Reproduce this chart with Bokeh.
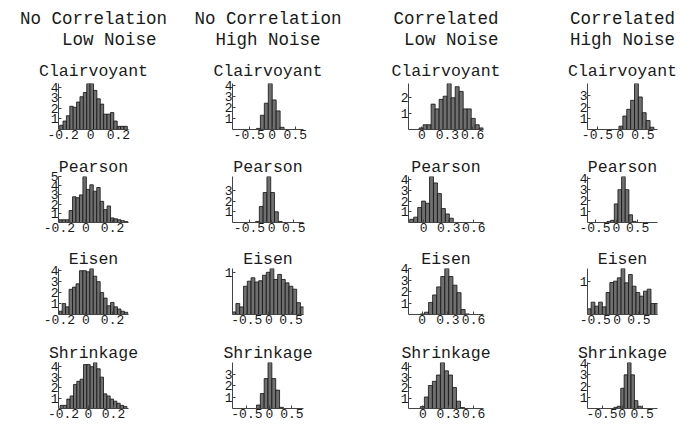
import numpy as np
from bokeh.plotting import figure
from bokeh.layouts import gridplot
from bokeh.models import Range1d, FixedTicker, Title
from bokeh.embed import file_html
from bokeh.resources import INLINE

# ---------------- data ----------------
header_line1 = ["No Correlation", "No Correlation", "Correlated", "Correlated"]
header_line2 = ["Low Noise", "High Noise", "Low Noise", "High Noise"]
methods = ["Clairvoyant", "Pearson", "Eisen", "Shrinkage"]

x_ticks = [[-0.2, 0, 0.2], [-0.5, 0, 0.5], [0, 0.3, 0.6], [-0.5, 0, 0.5]]
x_tick_labels = [["-0.2", "0", "0.2"], ["-0.5", "0", "0.5"], ["0", "0.3", "0.6"], ["-0.5", "0", "0.5"]]

# histogram densities (bar heights), one list per panel
nc_ln_clairvoyant = [0.4, 0.8, 1.3, 2.2, 2.1, 2.6, 3.1, 3.5, 4.35, 4.35, 3.7, 2.9, 2.4, 1.45, 1.45, 1.6, 0.8, 0.3, 0.3, 0.3]
nc_ln_pearson = [0.3, 0.3, 0.3, 1.3, 2.8, 2.7, 3.0, 5.0, 3.6, 4.1, 3.4, 3.8, 2.3, 1.4, 1.8, 0.5, 0.4, 0.3, 0.2, 0.1]
nc_ln_eisen = [0.3, 1.0, 0.7, 2.3, 2.5, 2.8, 4.0, 4.0, 3.9, 4.2, 3.5, 3.0, 2.0, 1.5, 0.8, 1.1, 0.7, 0.5, 0.3, 0.2]
nc_ln_shrinkage = [0.3, 0.3, 0.9, 1.2, 2.3, 2.6, 2.8, 4.2, 4.2, 4.0, 4.4, 3.8, 3.0, 1.4, 1.2, 0.9, 0.7, 0.5, 0.3, 0.2]

nc_hn_clairvoyant = [0.1, 1.3, 2.4, 4.2, 2.7, 1.7, 0.2]
nc_hn_pearson = [0.1, 1.5, 2.8, 4.3, 2.8, 1.0, 0.1]
nc_hn_eisen = [0.06, 0.26, 0.18, 0.67, 0.79, 0.87, 0.77, 0.80, 0.93, 1.0, 1.09, 0.83, 0.95, 0.83, 0.75, 0.67, 0.6, 0.28, 0.18]
nc_hn_shrinkage = [0.3, 1.3, 2.6, 4.0, 2.6, 1.6, 0.1]

c_ln_clairvoyant = [0.1, 0.3, 0.3, 1.6, 1.3, 1.9, 2.1, 2.9, 2.0, 2.7, 2.4, 1.3, 1.3, 0.7, 0.3, 0.1]
c_ln_pearson = [0.3, 0.5, 1.4, 2.0, 1.8, 4.3, 3.7, 2.7, 1.3, 0.8, 0.4]
c_ln_eisen = [0.05, 0.2, 1.05, 1.7, 2.4, 3.3, 4.0, 3.3, 2.55, 1.9, 0.43, 0.05]
c_ln_shrinkage = [0.2, 1.1, 2.2, 2.6, 3.2, 4.4, 3.6, 3.2, 2.0, 0.7, 0.1]

c_hn_clairvoyant = [0.3, 1.2, 1.8, 2.6, 4.1, 2.9, 1.5, 0.8, 0.2]
c_hn_pearson = [0.1, 0.2, 1.7, 3.0, 4.2, 3.0, 0.7, 0.1]
c_hn_eisen = [0.17, 0.37, 0.25, 0.37, 0.23, 0.66, 0.96, 1.0, 1.1, 1.38, 0.95, 1.2, 0.85, 0.66, 0.55, 0.7, 0.76, 0.33, 0.33]
c_hn_shrinkage = [0.1, 0.2, 1.8, 3.0, 4.1, 3.0, 0.7, 0.2]

# first bin edge and bin width of each panel (rows = methods, cols = scenarios)
bin_start = [
    [-0.225, -0.343, -0.034, -0.027],
    [-0.205, -0.363, -0.167, -0.22],
    [-0.205, -0.83, -0.02, -0.68],
    [-0.227, -0.287, -0.03, -0.205],
]
bin_width = [
    [0.0245, 0.0856, 0.0474, 0.0856],
    [0.026, 0.0856, 0.0474, 0.0856],
    [0.026, 0.0856, 0.0474, 0.0856],
    [0.0267, 0.0856, 0.0474, 0.0856],
]
y_ticks = [
    [[1, 2, 3, 4], [1, 2, 3, 4], [1, 2], [1, 2, 3]],
    [[1, 2, 3, 4, 5], [1, 2, 3], [1, 2, 3, 4], [1, 2, 3, 4]],
    [[1, 2, 3, 4], [1], [1, 2, 3, 4], [1]],
    [[1, 2, 3, 4], [1, 2, 3], [1, 2, 3, 4], [1, 2, 3, 4]],
]

hist = [
    [nc_ln_clairvoyant, nc_hn_clairvoyant, c_ln_clairvoyant, c_hn_clairvoyant],
    [nc_ln_pearson, nc_hn_pearson, c_ln_pearson, c_hn_pearson],
    [nc_ln_eisen, nc_hn_eisen, c_ln_eisen, c_hn_eisen],
    [nc_ln_shrinkage, nc_hn_shrinkage, c_ln_shrinkage, c_hn_shrinkage],
]

# ---------------- layout (page pixels) ----------------
COL_W = 172
PAGE_X0 = 0
SCALE = [150.0, 48.7, 88.0, 48.7]          # pixels per data unit on x, by column
# (y-axis x, frame right x, x of zero) in page pixels
GEOM = [
    [(52, 128, 87), (228, 303, 270), (405, 483, 419), (582, 657, 617)],
    [(58, 137, 89), (232, 310, 275), (408, 487, 424), (587, 667, 620)],
    [(58, 137, 89), (232, 310, 272), (408, 485, 422), (587, 665, 620)],
    [(53, 137, 89), (230, 307, 270), (405, 483, 420), (575, 660, 617)],
]
ROW_TOP = [83, 22, 21, 22]
FRAME_H = [46, 46, 46, 46]
ROW_BOTTOM = [25, 25, 26, 17]
HEADER_INDENT = [4, 2, 1, 0]   # second header line indent (monospace chars)

FONT = "Liberation Mono"
TXT = "#1a1a1a"
NBSP = "\u00a0"


def make_title(text, size, standoff):
    return Title(text=text, align="center", text_font=FONT, text_font_size=size,
                 text_font_style="normal", text_color=TXT, standoff=standoff)


rows = []
for r in range(4):
    row_figs = []
    for c in range(4):
        ax, rx, zx = GEOM[r][c]
        s = SCALE[c]
        xa = (ax - zx) / s
        xb = (rx - zx) / s
        h = np.array(hist[r][c], dtype=float)
        left = bin_start[r][c] + bin_width[r][c] * np.arange(len(h))
        right = left + bin_width[r][c]
        col_x0 = PAGE_X0 + COL_W * c
        lb = ax - col_x0
        fw = rx - ax
        rb = COL_W - lb - fw
        height = ROW_TOP[r] + FRAME_H[r] + ROW_BOTTOM[r]
        p = figure(width=COL_W, height=height,
                   x_range=Range1d(xa, xb), y_range=Range1d(0, h.max()),
                   min_border_left=lb, min_border_right=rb,
                   min_border_top=ROW_TOP[r], min_border_bottom=ROW_BOTTOM[r],
                   output_backend="svg", toolbar_location=None)
        # titles added first sit closest to the frame
        p.add_layout(make_title(methods[r], "16.5px", 6 if r == 0 else 0), "above")
        if r == 0:
            text = header_line1[c] + "\n" + NBSP * HEADER_INDENT[c] + header_line2[c]
            header = make_title(text, "17.5px", 13)
            header.text_line_height = 1.05
            p.add_layout(header, "above")
        p.quad(left=left, right=right, bottom=0, top=h,
               fill_color="#6f6f6f", line_color="#111111", line_width=0.8)
        p.xaxis.ticker = FixedTicker(ticks=x_ticks[c])
        p.xaxis.major_label_overrides = {v: t for v, t in zip(x_ticks[c], x_tick_labels[c])}
        p.yaxis.ticker = FixedTicker(ticks=y_ticks[r][c])
        for axis in (p.xaxis, p.yaxis):
            axis.axis_line_color = "#444444"
            axis.major_tick_line_color = "#444444"
            axis.major_tick_in = 3
            axis.major_tick_out = 0
            axis.minor_tick_line_color = None
            axis.major_label_text_font = FONT
            axis.major_label_text_font_size = "13px"
            axis.major_label_text_color = TXT
            axis.major_label_standoff = 0
            axis.axis_label_standoff = 0
        p.xgrid.visible = False
        p.ygrid.visible = False
        p.outline_line_color = None
        p.background_fill_color = "white"
        p.border_fill_color = "white"
        row_figs.append(p)
    rows.append(row_figs)

grid = gridplot(rows, toolbar_location=None)
open("out.html", "w").write(file_html(grid, INLINE))
